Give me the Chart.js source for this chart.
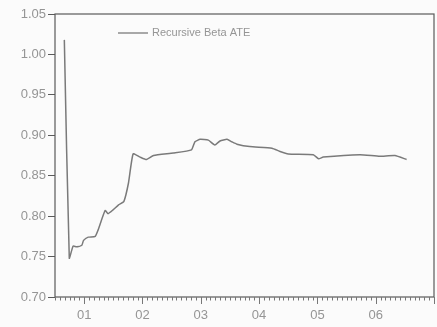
<!DOCTYPE html>
<html>
<head>
<meta charset="utf-8">
<script src="https://cdn.jsdelivr.net/npm/chart.js@4/dist/chart.umd.min.js"></script>
<style>
  html, body { margin: 0; padding: 0; background: #fbfbfb; }
  #wrap { width: 437px; height: 327px; }
</style>
</head>
<body>
<div id="wrap"><canvas id="c" width="437" height="327"></canvas></div>
<script>
// Recursive beta estimate for ATE, dates as decimal years
const dates = [
  2000.66, 2000.745, 2000.81, 2000.87, 2000.96, 2000.99, 2001.07, 2001.19, 2001.24,
  2001.36, 2001.41, 2001.50, 2001.59, 2001.68, 2001.76, 2001.84, 2001.96, 2002.07,
  2002.19, 2002.53, 2002.84, 2002.90, 2002.99, 2003.13, 2003.24, 2003.33, 2003.45,
  2003.53, 2003.62, 2003.84, 2004.22, 2004.36, 2004.50, 2004.93, 2005.02, 2005.10,
  2005.73, 2006.07, 2006.33, 2006.53
];
const betaATE = [
  1.018, 0.748, 0.763, 0.762, 0.764, 0.770, 0.774, 0.775, 0.783,
  0.807, 0.803, 0.808, 0.814, 0.818, 0.841, 0.877, 0.873, 0.870,
  0.875, 0.878, 0.882, 0.892, 0.895, 0.894, 0.888, 0.893, 0.895,
  0.892, 0.889, 0.886, 0.884, 0.880, 0.877, 0.876, 0.871, 0.873,
  0.876, 0.874, 0.875, 0.870
];
const yearTicks = [2001, 2002, 2003, 2004, 2005, 2006];
const yearLabels = ['01', '02', '03', '04', '05', '06'];
const seriesName = 'Recursive Beta ATE';

const textColor = '#959595';
const axisColor = '#5a5a5a';
const lineColor = '#7a7a7a';
const font = { family: 'Liberation Sans, Arial, sans-serif', size: 13 };

// Box around the plot, monthly minor ticks and the in-plot legend
const framePlugin = {
  id: 'frame',
  afterDraw(chart) {
    const { ctx, chartArea: a, scales } = chart;
    const x = scales.x;
    ctx.save();
    ctx.strokeStyle = axisColor;
    ctx.lineWidth = 1.2;
    ctx.strokeRect(a.left, a.top, a.right - a.left, a.bottom - a.top);
    // monthly minor ticks
    ctx.lineWidth = 1;
    ctx.strokeStyle = '#777';
    for (let y = 2000; y <= 2007; y++) {
      for (let m = 0; m < 12; m++) {
        const v = y + m / 12;
        if (v < x.min || v > x.max) continue;
        const px = Math.round(x.getPixelForValue(v)) + 0.5;
        ctx.beginPath();
        ctx.moveTo(px, a.bottom);
        ctx.lineTo(px, a.bottom + (m === 0 ? 7 : 3.5));
        ctx.stroke();
      }
    }
    // legend
    const lx = 118, ly = 33;
    ctx.strokeStyle = lineColor;
    ctx.lineWidth = 1.3;
    ctx.beginPath();
    ctx.moveTo(lx, ly);
    ctx.lineTo(lx + 30, ly);
    ctx.stroke();
    ctx.fillStyle = textColor;
    ctx.font = '11px ' + font.family;
    ctx.textBaseline = 'middle';
    ctx.fillText(seriesName, lx + 34, ly);
    ctx.restore();
  }
};

new Chart(document.getElementById('c'), {
  type: 'line',
  data: {
    datasets: [{
      label: seriesName,
      data: dates.map((d, i) => ({ x: d, y: betaATE[i] })),
      borderColor: lineColor,
      borderWidth: 1.5,
      pointRadius: 0,
      tension: 0.15,
      fill: false
    }]
  },
  options: {
    responsive: false,
    animation: false,
    layout: { padding: { top: 14, right: 3, left: 0, bottom: 0 } },
    plugins: { legend: { display: false }, tooltip: { enabled: false } },
    scales: {
      x: {
        type: 'linear',
        min: 2000.5,
        max: 2007.0,
        afterBuildTicks(s) { s.ticks = yearTicks.map(v => ({ value: v })); },
        afterFit(s) { s.height = 30; },
        grid: { display: false, drawOnChartArea: false },
        border: { display: false },
        ticks: {
          color: textColor,
          font: font,
          padding: 3,
          maxRotation: 0,
          callback: (v) => yearLabels[yearTicks.indexOf(v)] ?? ''
        }
      },
      y: {
        min: 0.70,
        max: 1.05,
        afterFit(s) { s.width = 55; },
        grid: { drawOnChartArea: false, drawTicks: true, tickLength: 7, color: axisColor },
        border: { display: false },
        ticks: {
          stepSize: 0.05,
          color: textColor,
          font: font,
          padding: 2,
          callback: (v) => v.toFixed(2)
        }
      }
    }
  },
  plugins: [framePlugin]
});
</script>
</body>
</html>
